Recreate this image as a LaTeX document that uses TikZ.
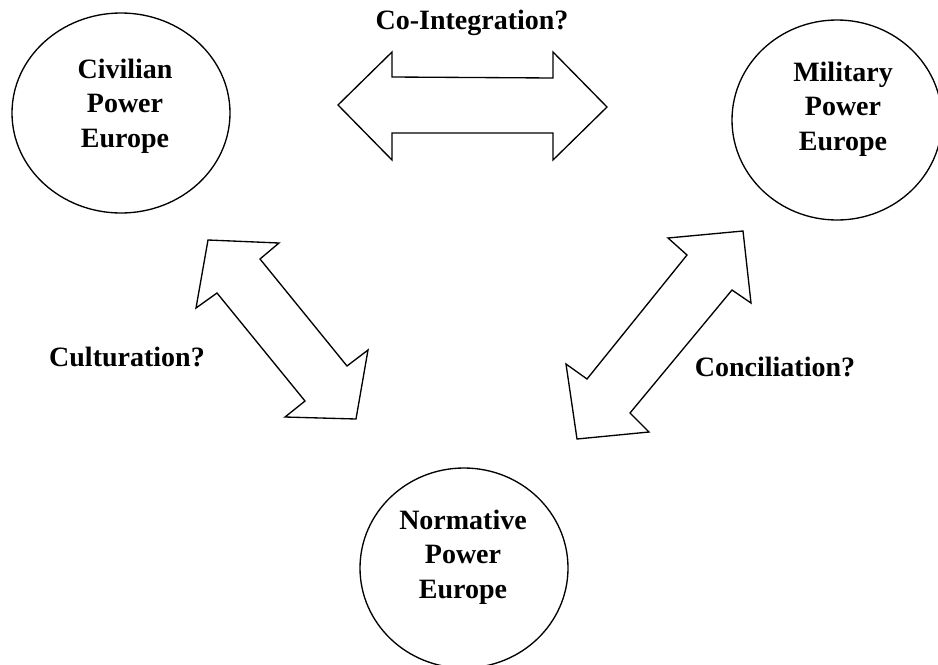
\documentclass[tikz,border=0pt]{standalone}
\usepackage{fontspec}
\setmainfont{Liberation Serif}
\usetikzlibrary{shapes.geometric}
\begin{document}
\begin{tikzpicture}[x=0.75pt,y=-0.75pt,
  ring/.style={draw,line width=1pt,ellipse,inner sep=0pt},
  lbl/.style={font=\fontsize{21}{26}\selectfont\bfseries,align=center,inner sep=0pt},
  bigarrow/.style={draw,line width=1pt,line join=miter,fill=white}]
\useasboundingbox (0,0) rectangle (938,664);
% circles
\node[ring,minimum width=163.5pt,minimum height=150pt] (civ) at (121,113) {};
\node[ring,minimum width=157.5pt,minimum height=150pt] (mil) at (837,120) {};
\node[ring,minimum width=156pt,minimum height=150pt] (nor) at (464,568) {};
\node[lbl] (civt) at (125,106) {Civilian\\Power\\Europe};
\node[lbl] (milt) at (843,109) {Military\\Power\\Europe};
\node[lbl] (nort) at (463,557) {Normative\\Power\\Europe};
% relation labels
\node[lbl] (coint) at (472,23) {Co-Integration?};
\node[lbl] (cult) at (127,357) {Culturation?};
\node[lbl] (conc) at (775,367) {Conciliation?};
% top double arrow
\draw[bigarrow] (338,105) -- (392,52) -- (392,77) -- (553,78) -- (553,52) -- (607,107)
  -- (553,160) -- (553,133) -- (392,133) -- (392,160) -- cycle;
% left diagonal double arrow
\draw[bigarrow] (208,240) -- (279,243) -- (260,259) -- (347,366) -- (368,350) -- (356,419)
  -- (285,417) -- (305,401) -- (217,293) -- (196,308) -- cycle;
% right diagonal double arrow
\draw[bigarrow] (743,231) -- (751,303) -- (732,290) -- (630,413) -- (649,432) -- (577,439)
  -- (566,364) -- (587,379) -- (687,255) -- (668,238) -- cycle;
\end{tikzpicture}
\end{document}
